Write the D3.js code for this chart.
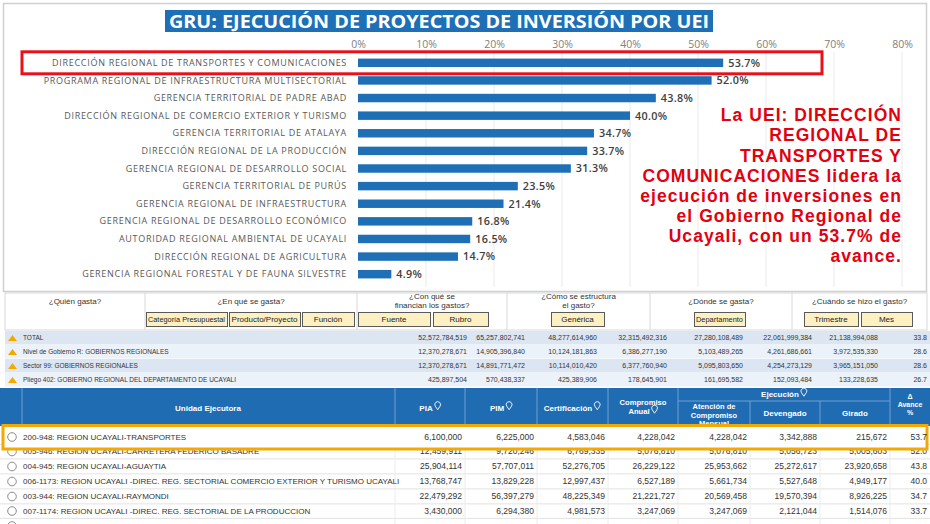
<!DOCTYPE html>
<html><head><meta charset="utf-8">
<script src="https://cdn.jsdelivr.net/npm/d3@7"></script>
<style>body{margin:0;background:#fff}svg{display:block}</style>
</head><body><svg id="c" width="930" height="524"></svg>
<script>
// ---------- chart data ----------
const categories = [
  "DIRECCIÓN REGIONAL DE TRANSPORTES Y COMUNICACIONES",
  "PROGRAMA REGIONAL DE INFRAESTRUCTURA MULTISECTORIAL",
  "GERENCIA TERRITORIAL DE PADRE ABAD",
  "DIRECCIÓN REGIONAL DE COMERCIO EXTERIOR Y TURISMO",
  "GERENCIA TERRITORIAL DE ATALAYA",
  "DIRECCIÓN REGIONAL DE LA PRODUCCIÓN",
  "GERENCIA REGIONAL DE DESARROLLO SOCIAL",
  "GERENCIA TERRITORIAL DE PURÚS",
  "GERENCIA REGIONAL DE INFRAESTRUCTURA",
  "GERENCIA REGIONAL DE DESARROLLO ECONÓMICO",
  "AUTORIDAD REGIONAL AMBIENTAL DE UCAYALI",
  "DIRECCIÓN REGIONAL DE AGRICULTURA",
  "GERENCIA REGIONAL FORESTAL Y DE FAUNA SILVESTRE"
];
const values = [53.7, 52.0, 43.8, 40.0, 34.7, 33.7, 31.3, 23.5, 21.4, 16.8, 16.5, 14.7, 4.9];
const xTicks = [0, 10, 20, 30, 40, 50, 60, 70, 80];
const titleText = "GRU: EJECUCIÓN DE PROYECTOS DE INVERSIÓN POR UEI";
const noteLines = [
  "La UEI: DIRECCIÓN",
  "REGIONAL DE",
  "TRANSPORTES Y",
  "COMUNICACIONES lidera la",
  "ejecución de inversiones en",
  "el Gobierno Regional de",
  "Ucayali, con un 53.7% de",
  "avance."
];

// ---------- table data ----------
const groupLabels = [
  ["¿Quién gasta?"],
  ["¿En qué se gasta?"],
  ["¿Con qué se", "financian los gastos?"],
  ["¿Cómo se estructura", "el gasto?"],
  ["¿Dónde se gasta?"],
  ["¿Cuándo se hizo el gasto?"]
];
const buttonLabels = ["Categoría Presupuestal", "Producto/Proyecto", "Función", "Fuente", "Rubro",
  "Genérica", "Departamento", "Trimestre", "Mes"];
const summaryLabels = [
  "TOTAL",
  "Nivel de Gobierno R: GOBIERNOS REGIONALES",
  "Sector 99: GOBIERNOS REGIONALES",
  "Pliego 402: GOBIERNO REGIONAL DEL DEPARTAMENTO DE UCAYALI"
];
const summaryValues = [
  ["52,572,784,519", "65,257,802,741", "48,277,614,960", "32,315,492,316", "27,280,108,489", "22,061,999,384", "21,138,994,088", "33.8"],
  ["12,370,278,671", "14,905,396,840", "10,124,181,863", "6,386,277,190", "5,103,489,265", "4,261,686,661", "3,972,535,330", "28.6"],
  ["12,370,278,671", "14,891,771,472", "10,114,010,420", "6,377,760,940", "5,095,803,650", "4,254,273,129", "3,965,151,050", "28.6"],
  ["425,897,504", "570,438,337", "425,389,906", "178,645,901", "161,695,582", "152,093,484", "133,228,635", "26.7"]
];
const unitLabels = [
  "200-948: REGION UCAYALI-TRANSPORTES",
  "005-946: REGION UCAYALI-CARRETERA FEDERICO BASADRE",
  "004-945: REGION UCAYALI-AGUAYTIA",
  "006-1173: REGION UCAYALI -DIREC. REG. SECTORIAL COMERCIO EXTERIOR Y TURISMO UCAYALI",
  "003-944: REGION UCAYALI-RAYMONDI",
  "007-1174: REGION UCAYALI -DIREC. REG. SECTORIAL DE LA PRODUCCION"
];
const unitValues = [
  ["6,100,000", "6,225,000", "4,583,046", "4,228,042", "4,228,042", "3,342,888", "215,672", "53.7"],
  ["12,459,911", "9,720,246", "6,769,335", "5,076,810", "5,076,810", "5,056,723", "5,005,603", "52.0"],
  ["25,904,114", "57,707,011", "52,276,705", "26,229,122", "25,953,662", "25,272,617", "23,920,658", "43.8"],
  ["13,768,747", "13,829,228", "12,997,437", "6,527,189", "5,661,734", "5,527,648", "4,949,177", "40.0"],
  ["22,479,292", "56,397,279", "48,225,349", "21,221,727", "20,569,458", "19,570,394", "8,926,225", "34.7"],
  ["3,430,000", "6,294,380", "4,981,573", "3,247,069", "3,247,069", "2,121,044", "1,514,076", "33.7"]
];

// ---------- layout ----------
const svg = d3.select("#c");
const BLUE = "#1f6fb7";
const W = 930;

// chart frame
svg.append("rect").attr("x", 3.5).attr("y", 3.5).attr("width", 923).attr("height", 288)
  .attr("fill", "#fff").attr("stroke", "#cfcfcf").attr("stroke-width", 1.5);

const x = d3.scaleLinear().domain([0, 80]).range([358, 902]);
const y = d3.scaleBand().domain(categories).range([54, 283]).paddingInner(0.52).paddingOuter(0.26);

// gridlines
svg.append("g").selectAll("line").data(xTicks.slice(1)).join("line")
  .attr("x1", d => x(d)).attr("x2", d => x(d)).attr("y1", 52).attr("y2", 287)
  .attr("stroke", "#e9e9e9").attr("stroke-width", 1);

// top axis
const axis = svg.append("g").attr("transform", "translate(0,48)")
  .call(d3.axisTop(x).tickValues(xTicks).tickFormat(d => d + "%").tickSize(0).tickPadding(0));
axis.select(".domain").remove();
axis.selectAll("text").attr("fill", "#808080").attr("font-family", "Open Sans").attr("font-size", 10.5);

// title
svg.append("rect").attr("x", 165).attr("y", 10).attr("width", 548).attr("height", 22).attr("fill", BLUE);
svg.append("text").attr("x", 439).attr("y", 27.5).attr("text-anchor", "middle")
  .attr("font-family", "Open Sans").attr("font-weight", 700).attr("font-size", 18.5)
  .attr("fill", "#fff").attr("textLength", 540).attr("lengthAdjust", "spacingAndGlyphs").text(titleText);

// bars
svg.append("g").selectAll("rect").data(values).join("rect")
  .attr("x", x(0)).attr("y", (d, i) => y(categories[i]))
  .attr("width", d => x(d) - x(0)).attr("height", y.bandwidth()).attr("fill", BLUE);

// category labels
svg.append("g").selectAll("text").data(categories).join("text")
  .attr("x", 347).attr("y", d => y(d) + y.bandwidth() / 2).attr("dy", "0.35em")
  .attr("text-anchor", "end").attr("font-family", "Open Sans").attr("font-size", 9)
  .attr("letter-spacing", 0.7).attr("fill", "#595959").text(d => d);

// value labels
svg.append("g").selectAll("text").data(values).join("text")
  .attr("x", d => x(d) + 5).attr("y", (d, i) => y(categories[i]) + y.bandwidth() / 2).attr("dy", "0.36em")
  .attr("font-family", "Open Sans").attr("font-weight", 600).attr("font-size", 10.8)
  .attr("letter-spacing", 0.3).attr("fill", "#404040").text(d => d.toFixed(1) + "%");

// red highlight box
const r0 = y(categories[0]) + y.bandwidth() / 2;
svg.append("rect").attr("x", 22).attr("y", r0 - 11).attr("width", 800).attr("height", 22)
  .attr("fill", "none").attr("stroke", "#e8101a").attr("stroke-width", 3);

// red note
svg.append("g").selectAll("text").data(noteLines).join("text")
  .attr("x", 902).attr("y", (d, i) => 115 + i * 20.1).attr("dy", "0.36em").attr("text-anchor", "end")
  .attr("font-family", "Liberation Sans").attr("font-weight", 700).attr("font-size", 17.5)
  .attr("letter-spacing", 1.05).attr("fill", "#e3000f").text(d => d);

// ---------- table ----------
const TF = "Liberation Sans";
// group header area
const groupBounds = [5, 145, 357, 507, 650, 792, 927];
svg.append("rect").attr("x", 5).attr("y", 293).attr("width", 922).attr("height", 37)
  .attr("fill", "#fff").attr("stroke", "#d8d8d8");
svg.append("g").selectAll("line").data(groupBounds.slice(1, -1)).join("line")
  .attr("x1", d => d).attr("x2", d => d).attr("y1", 293).attr("y2", 330).attr("stroke", "#d8d8d8");
groupLabels.forEach((lines, gi) => {
  const cx = (groupBounds[gi] + groupBounds[gi + 1]) / 2;
  const y0 = lines.length === 1 ? 301 : 296.5;
  lines.forEach((t, li) => {
    svg.append("text").attr("x", cx).attr("y", y0 + li * 9).attr("dy", "0.35em").attr("text-anchor", "middle")
      .attr("font-family", TF).attr("font-size", 8).attr("fill", "#333").text(t);
  });
});
const buttonX = [[146, 227], [229, 300], [302, 354], [358, 430], [433, 488], [551, 604], [694, 745], [804, 858], [861, 912]];
buttonLabels.forEach((t, i) => {
  const [a, b] = buttonX[i];
  svg.append("rect").attr("x", a + 0.5).attr("y", 312.5).attr("width", b - a).attr("height", 14)
    .attr("fill", "#fdf1c4").attr("stroke", "#5a5a5a").attr("stroke-width", 1);
  const tx = svg.append("text").attr("x", (a + b) / 2).attr("y", 319.5).attr("dy", "0.35em").attr("text-anchor", "middle")
    .attr("font-family", TF).attr("font-size", 8).attr("fill", "#222").text(t);
  const w = tx.node().getComputedTextLength();
  if (w > b - a - 4) tx.attr("textLength", b - a - 4).attr("lengthAdjust", "spacingAndGlyphs");
});

// summary rows
const sumRight = [467, 525, 597, 667, 743, 812, 878, 927];
summaryLabels.forEach((lab, i) => {
  const top = 331 + i * 14;
  svg.append("rect").attr("x", 5).attr("y", top).attr("width", 925).attr("height", 14)
    .attr("fill", i % 2 === 0 ? "#dce6f3" : "#ecf2f9");
  svg.append("line").attr("x1", 5).attr("x2", 930).attr("y1", top + 14).attr("y2", top + 14).attr("stroke", "#fff");
  svg.append("path").attr("d", `M8,${top + 10} L12.5,${top + 4} L17,${top + 10} Z`).attr("fill", "#f2a900");
  svg.append("text").attr("x", 23).attr("y", top + 7).attr("dy", "0.35em")
    .attr("font-family", TF).attr("font-size", 6.5).attr("fill", "#333").text(lab);
  summaryValues[i].forEach((v, j) => {
    svg.append("text").attr("x", sumRight[j]).attr("y", top + 7).attr("dy", "0.35em").attr("text-anchor", "end")
      .attr("font-family", TF).attr("font-size", 7).attr("fill", "#333").text(v);
  });
});

// blue header
const colB = [0, 22, 395, 465, 537, 608, 678, 750, 820, 890, 930];
const hTop = 388, hBot = 426;
const clip = svg.append("clipPath").attr("id", "hclip");
clip.append("rect").attr("x", 0).attr("y", hTop).attr("width", W).attr("height", hBot - hTop);
const hg = svg.append("g").attr("clip-path", "url(#hclip)");
hg.append("rect").attr("x", 0).attr("y", hTop).attr("width", W).attr("height", hBot - hTop).attr("fill", "#206cb3");
[22, 395, 465, 537, 608, 678, 890].forEach(b => {
  hg.append("line").attr("x1", b).attr("x2", b).attr("y1", hTop).attr("y2", hBot).attr("stroke", "#6d9fd0");
});
[750, 820].forEach(b => {
  hg.append("line").attr("x1", b).attr("x2", b).attr("y1", 401).attr("y2", hBot).attr("stroke", "#6d9fd0");
});
hg.append("line").attr("x1", 678).attr("x2", 890).attr("y1", 401).attr("y2", 401).attr("stroke", "#6d9fd0");
function htext(t, cx, cy, pin, fs) {
  const tx = hg.append("text").attr("x", cx).attr("y", cy).attr("dy", "0.35em").attr("text-anchor", "middle")
    .attr("font-family", TF).attr("font-weight", 700).attr("font-size", fs || 8).attr("fill", "#fff").text(t);
  if (pin) {
    const w = tx.node().getComputedTextLength();
    tx.attr("x", cx - 4);
    const px = cx - 4 + w / 2 + 5, py = cy - 1.5;
    hg.append("path").attr("d", `M${px},${py + 3.2} L${px - 2.4},${py - 0.3} A2.9,2.9 0 1,1 ${px + 2.4},${py - 0.3} Z`)
      .attr("fill", "none").attr("stroke", "#fff").attr("stroke-width", 0.9);
  }
}
htext("Unidad Ejecutora", 208, 408);
htext("PIA", 430, 408, true);
htext("PIM", 501, 408, true);
htext("Certificación", 572, 408, true);
htext("Compromiso", 643, 402.5, false, 7.6);
htext("Anual", 643, 411.5, true, 7.6);
htext("Ejecución", 784, 394.5, true);
htext("Atención de", 714, 406.5, false, 7.5);
htext("Compromiso", 714, 415, false, 7.5);
htext("Mensual", 714, 423.5, false, 7.5);
htext("Devengado", 785, 413.5);
htext("Girado", 855, 413.5);
htext("Δ", 910, 396.5, false, 7);
htext("Avance", 910, 404.5, false, 7);
htext("%", 910, 412.5, false, 7);

// unit rows
const unitRight = colB.slice(3).map(b => b - 3);
const rowCenters = [437, 451.5, 466.5, 481.5, 496.5, 511, 526];
function drawUnitRow(i) {
  const cy = rowCenters[i];
  const g = svg.append("g");
  g.append("circle").attr("cx", 12).attr("cy", cy).attr("r", 4.3).attr("fill", "#fff").attr("stroke", "#8a8a8a");
  g.append("text").attr("x", 23).attr("y", cy).attr("dy", "0.35em")
    .attr("font-family", TF).attr("font-size", 8).attr("fill", "#333").text(unitLabels[i]);
  unitValues[i].forEach((v, j) => {
    g.append("text").attr("x", unitRight[j]).attr("y", cy).attr("dy", "0.35em").attr("text-anchor", "end")
      .attr("font-family", TF).attr("font-size", 8.5).attr("fill", "#333").text(v);
  });
}
// row grid
rowCenters.forEach(c => {
  svg.append("line").attr("x1", 0).attr("x2", W).attr("y1", c + 7.4).attr("y2", c + 7.4).attr("stroke", "#e2e2e2");
});
colB.slice(2, -1).forEach(b => {
  svg.append("line").attr("x1", b).attr("x2", b).attr("y1", hBot).attr("y2", 524).attr("stroke", "#ececec");
});
for (let i = 1; i < unitLabels.length; i++) drawUnitRow(i);
// partial next row radio
svg.append("circle").attr("cx", 12).attr("cy", rowCenters[6]).attr("r", 4.3).attr("fill", "#fff").attr("stroke", "#8a8a8a");

// orange highlight box (covers upper half of row 2)
svg.append("rect").attr("x", 3).attr("y", 425.5).attr("width", 924).attr("height", 23.5)
  .attr("fill", "#fff").attr("stroke", "#f4a900").attr("stroke-width", 3);
drawUnitRow(0);
</script></body></html>
